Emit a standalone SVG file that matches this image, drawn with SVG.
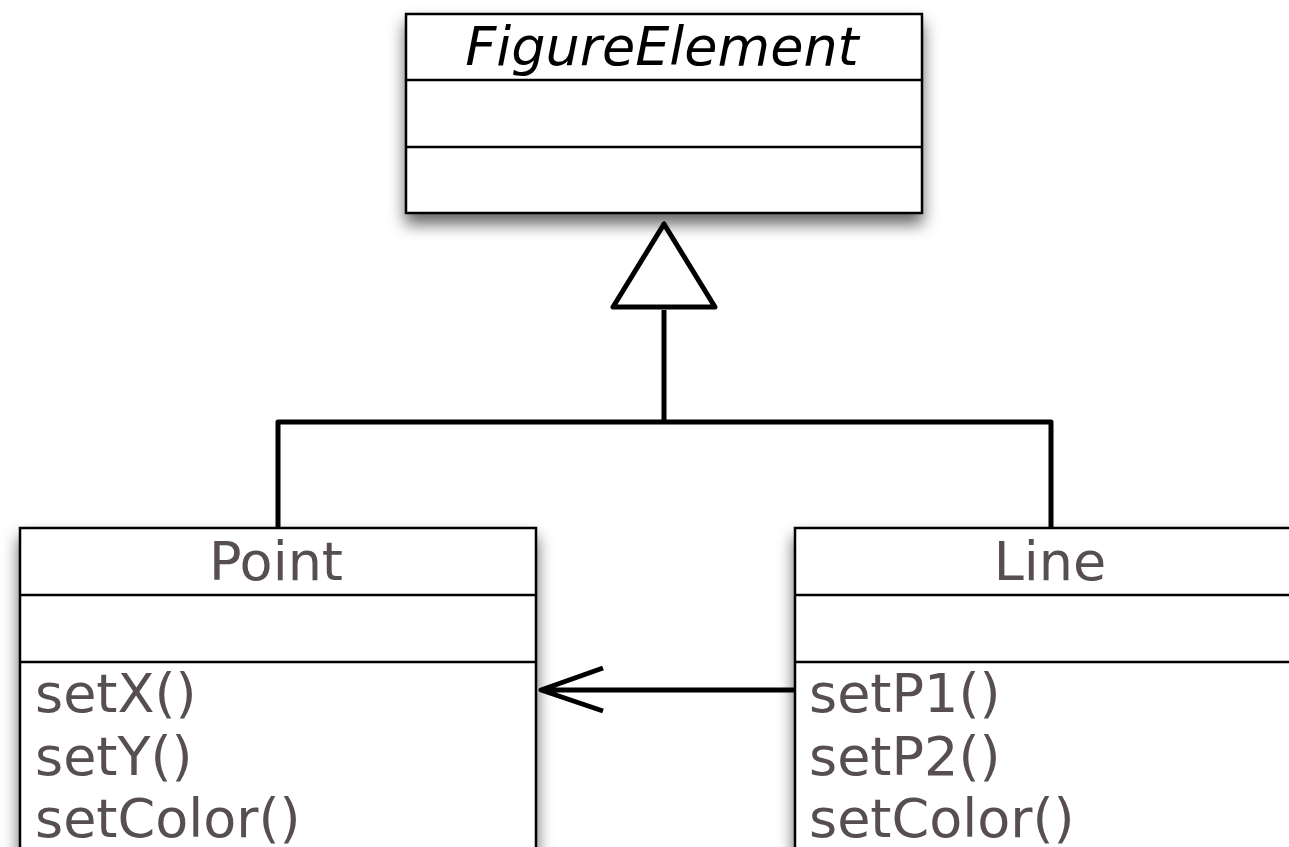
<svg xmlns="http://www.w3.org/2000/svg" width="1289" height="847" viewBox="0 0 1289 847">
<style>
.box{fill:#fff;stroke:#000;stroke-width:2.5}
.div{stroke:#000;stroke-width:2.5}
.t{font-family:"DejaVu Sans","Liberation Sans",sans-serif;font-size:54px;fill:#574f4f}
.title{text-anchor:middle}
.conn{fill:none;stroke:#000;stroke-width:5;stroke-linejoin:round}
</style>
<defs>
<filter id="sh" x="-10%" y="-10%" width="120%" height="140%">
<feDropShadow dx="0" dy="10" stdDeviation="8" flood-color="#000" flood-opacity="0.6"/>
</filter>
</defs>
<rect width="1289" height="847" fill="#fff"/>
<g id="connectors">
<polyline class="conn" points="664,310 664,422"/>
<polyline class="conn" points="278,528 278,422 1051,422 1051,528"/>
<path class="conn" d="M796,690 L541,690 M603,668 L541,690 L603,711"/>
</g>
<g id="FigureElement">
<rect class="box" x="406" y="14" width="516" height="199" filter="url(#sh)"/>
<line class="div" x1="406" y1="80" x2="922" y2="80"/>
<line class="div" x1="406" y1="147" x2="922" y2="147"/>
<text class="t title" x="662" y="65" style="font-style:italic;fill:#000">FigureElement</text>
</g>
<g id="generalization-head">
<polygon class="conn" points="664,224 613,307 715,307" fill="#fff"/>
</g>
<g id="Point">
<rect class="box" x="20" y="528" width="516" height="340" filter="url(#sh)"/>
<line class="div" x1="20" y1="595" x2="536" y2="595"/>
<line class="div" x1="20" y1="662" x2="536" y2="662"/>
<text class="t title" x="276" y="580">Point</text>
<text class="t" x="35" y="712">setX()</text>
<text class="t" x="35" y="775">setY()</text>
<text class="t" x="35" y="837">setColor()</text>
</g>
<g id="Line">
<rect class="box" x="795" y="528" width="516" height="340" filter="url(#sh)"/>
<line class="div" x1="795" y1="595" x2="1311" y2="595"/>
<line class="div" x1="795" y1="662" x2="1311" y2="662"/>
<text class="t title" x="1050" y="580">Line</text>
<text class="t" x="809" y="712">setP1()</text>
<text class="t" x="809" y="775">setP2()</text>
<text class="t" x="809" y="837">setColor()</text>
</g>
</svg>
